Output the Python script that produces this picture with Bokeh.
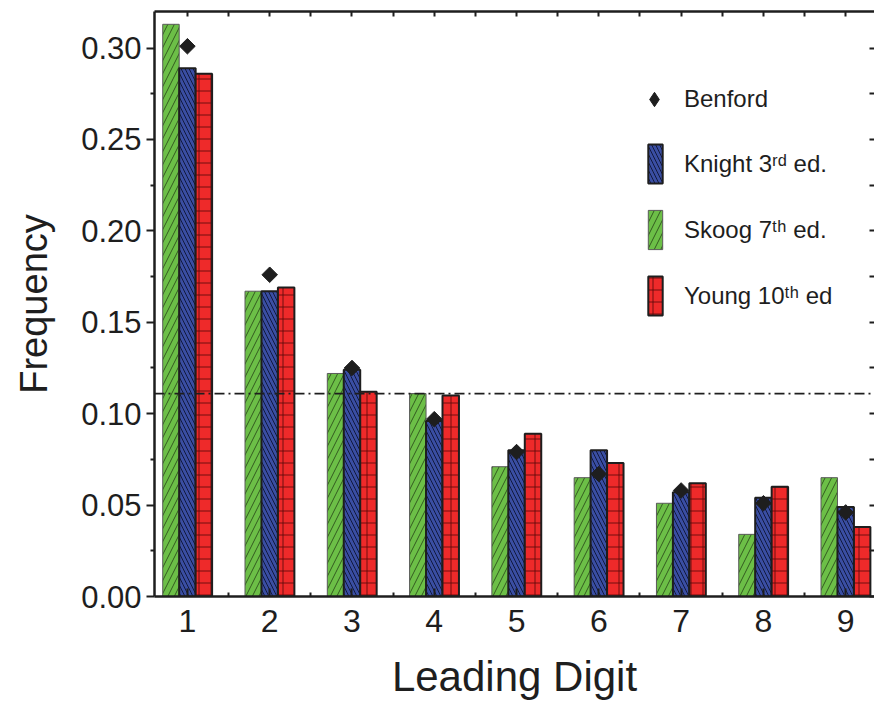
import numpy as np
from bokeh.plotting import figure
from bokeh.models import (ColumnDataSource, FixedTicker, LinearAxis, Span, Legend,
                          LegendItem, Range1d)
from bokeh.transform import dodge
from bokeh.embed import file_html
from bokeh.resources import INLINE

# ---- data ----
digits = [1, 2, 3, 4, 5, 6, 7, 8, 9]
benford = [0.301, 0.176, 0.125, 0.097, 0.079, 0.067, 0.058, 0.051, 0.046]
knight = [0.289, 0.167, 0.124, 0.096, 0.080, 0.080, 0.057, 0.054, 0.049]
skoog = [0.313, 0.167, 0.122, 0.111, 0.071, 0.065, 0.051, 0.034, 0.065]
young = [0.286, 0.169, 0.112, 0.110, 0.089, 0.073, 0.062, 0.060, 0.038]
uniform_level = 0.111

x_ticks = [1, 2, 3, 4, 5, 6, 7, 8, 9]
x_minor_ticks = [1.5, 2.5, 3.5, 4.5, 5.5, 6.5, 7.5, 8.5]
x_tick_labels = ["1", "2", "3", "4", "5", "6", "7", "8", "9"]
y_ticks = [0.0, 0.05, 0.10, 0.15, 0.20, 0.25, 0.30]
y_minor_ticks = [0.025, 0.075, 0.125, 0.175, 0.225, 0.275]
y_tick_labels = ["0.00", "0.05", "0.10", "0.15", "0.20", "0.25", "0.30"]

legend_labels = ["Benford", "Knight 3\u02b3\u1d48 ed.", "Skoog 7\u1d57\u02b0 ed.", "Young 10\u1d57\u02b0 ed"]

src = ColumnDataSource(dict(digit=digits, benford=benford, knight=knight,
                            skoog=skoog, young=young))

FONT = "Liberation Sans"
INK = "#1e1e1e"

p = figure(width=874, height=702, x_range=Range1d(0.6, 9.35), y_range=Range1d(0, 0.32),
           output_backend="svg", toolbar_location=None, title=None,
           min_border_left=154, min_border_right=0, min_border_top=11, min_border_bottom=105)
p.outline_line_color = None
p.xgrid.visible = False
p.ygrid.visible = False
p.background_fill_color = "white"
p.border_fill_color = "white"

bar_w = 0.2
r_skoog = p.vbar(x=dodge("digit", -0.2, range=p.x_range), top="skoog", width=bar_w, source=src,
                 fill_color="#6cbf47", line_color="#5a5a5a", line_width=1,
                 hatch_pattern="/", hatch_scale=13, hatch_color="#1f3812",
                 hatch_weight=1, hatch_alpha=0.75)
r_knight = p.vbar(x=dodge("digit", 0.0, range=p.x_range), top="knight", width=bar_w, source=src,
                  fill_color="#3a4ea3", line_color=INK, line_width=2,
                  hatch_pattern="\\", hatch_scale=8, hatch_color="#0d1333",
                  hatch_weight=1, hatch_alpha=0.9)
r_young = p.vbar(x=dodge("digit", 0.2, range=p.x_range), top="young", width=bar_w, source=src,
                 fill_color="#ee2a2a", line_color=INK, line_width=2,
                 hatch_pattern="+", hatch_scale=12, hatch_color="#5a0808",
                 hatch_weight=1, hatch_alpha=0.85)
r_ben = p.scatter(x="digit", y="benford", source=src, marker="square", angle=np.pi / 4,
                  size=11, fill_color=INK, line_color=INK)
# hidden twin used only for the legend swatch (legend markers cannot be rotated)
r_ben_key = p.scatter(x="digit", y="benford", source=src, marker="diamond",
                      fill_color=INK, line_color=INK, visible=False)

p.add_layout(Span(location=uniform_level, dimension="width", line_color=INK,
                  line_width=1.7, line_dash="10 4 2 4"))

xt = FixedTicker(ticks=x_ticks, minor_ticks=x_minor_ticks)
yt = FixedTicker(ticks=y_ticks, minor_ticks=y_minor_ticks)
# frame-only tick sets (no labels) for the top and right edges
xt_frame = FixedTicker(ticks=[], minor_ticks=sorted(x_ticks + x_minor_ticks))
yt_frame = FixedTicker(ticks=[], minor_ticks=sorted(y_ticks + y_minor_ticks))

xa = p.xaxis[0]
xa.ticker = xt
xa.major_label_overrides = {t: l for t, l in zip(x_ticks, x_tick_labels)}
xa.axis_label = "Leading Digit"
xa.axis_label_text_font = FONT
xa.axis_label_text_font_size = "42px"
xa.axis_label_text_font_style = "normal"
xa.axis_label_text_color = INK
xa.axis_label_standoff = 18
xa.major_label_text_font = FONT
xa.major_label_text_font_size = "32px"
xa.major_label_text_color = INK
xa.major_label_standoff = 13
xa.major_tick_in = 8
xa.major_tick_out = 0
xa.minor_tick_in = 4
xa.minor_tick_out = 0
xa.axis_line_width = 2.5
xa.axis_line_color = INK
xa.major_tick_line_width = 2
xa.minor_tick_line_width = 2
xa.major_tick_line_color = INK
xa.minor_tick_line_color = INK

ya = p.yaxis[0]
ya.ticker = yt
ya.major_label_overrides = {t: l for t, l in zip(y_ticks, y_tick_labels)}
ya.axis_label = "Frequency"
ya.axis_label_text_font = FONT
ya.axis_label_text_font_size = "38px"
ya.axis_label_text_font_style = "normal"
ya.axis_label_text_color = INK
ya.axis_label_standoff = 23
ya.major_label_text_font = FONT
ya.major_label_text_font_size = "31px"
ya.major_label_text_color = INK
ya.major_label_standoff = 5
ya.major_tick_in = 0
ya.major_tick_out = 8
ya.minor_tick_in = 0
ya.minor_tick_out = 4
ya.axis_line_width = 2.5
ya.axis_line_color = INK
ya.major_tick_line_width = 2
ya.minor_tick_line_width = 2
ya.major_tick_line_color = INK
ya.minor_tick_line_color = INK

top_axis = LinearAxis(ticker=xt_frame, major_label_standoff=0, major_label_text_font_size="0px",
                      major_tick_in=0, major_tick_out=0, minor_tick_in=5, minor_tick_out=0,
                      axis_line_width=2.5, axis_line_color=INK,
                      minor_tick_line_width=2, minor_tick_line_color=INK)
p.add_layout(top_axis, "above")

right_axis = LinearAxis(ticker=yt_frame, major_label_standoff=0, major_label_text_font_size="0px",
                        major_tick_in=0, major_tick_out=0, minor_tick_in=5, minor_tick_out=0,
                        axis_line_color=None,
                        minor_tick_line_width=2, minor_tick_line_color=INK)
p.add_layout(right_axis, "right")

legend_common = dict(orientation="vertical", padding=0, margin=0, border_line_color=None,
                     background_fill_alpha=0, inactive_fill_alpha=0,
                     label_text_font=FONT, label_text_font_size="24px",
                     label_text_color=INK)

legend_a = Legend(items=[LegendItem(label=legend_labels[0], renderers=[r_ben_key])],
                  location=(482, 479), glyph_width=36, glyph_height=36,
                  label_standoff=12, **legend_common)
legend_b = Legend(items=[LegendItem(label=legend_labels[1], renderers=[r_knight]),
                         LegendItem(label=legend_labels[2], renderers=[r_skoog]),
                         LegendItem(label=legend_labels[3], renderers=[r_young])],
                  location=(492, 276), glyph_width=18, glyph_height=49, spacing=17,
                  label_standoff=20, **legend_common)
p.add_layout(legend_a)
p.add_layout(legend_b)

open("out.html", "w").write(file_html(p, INLINE))
